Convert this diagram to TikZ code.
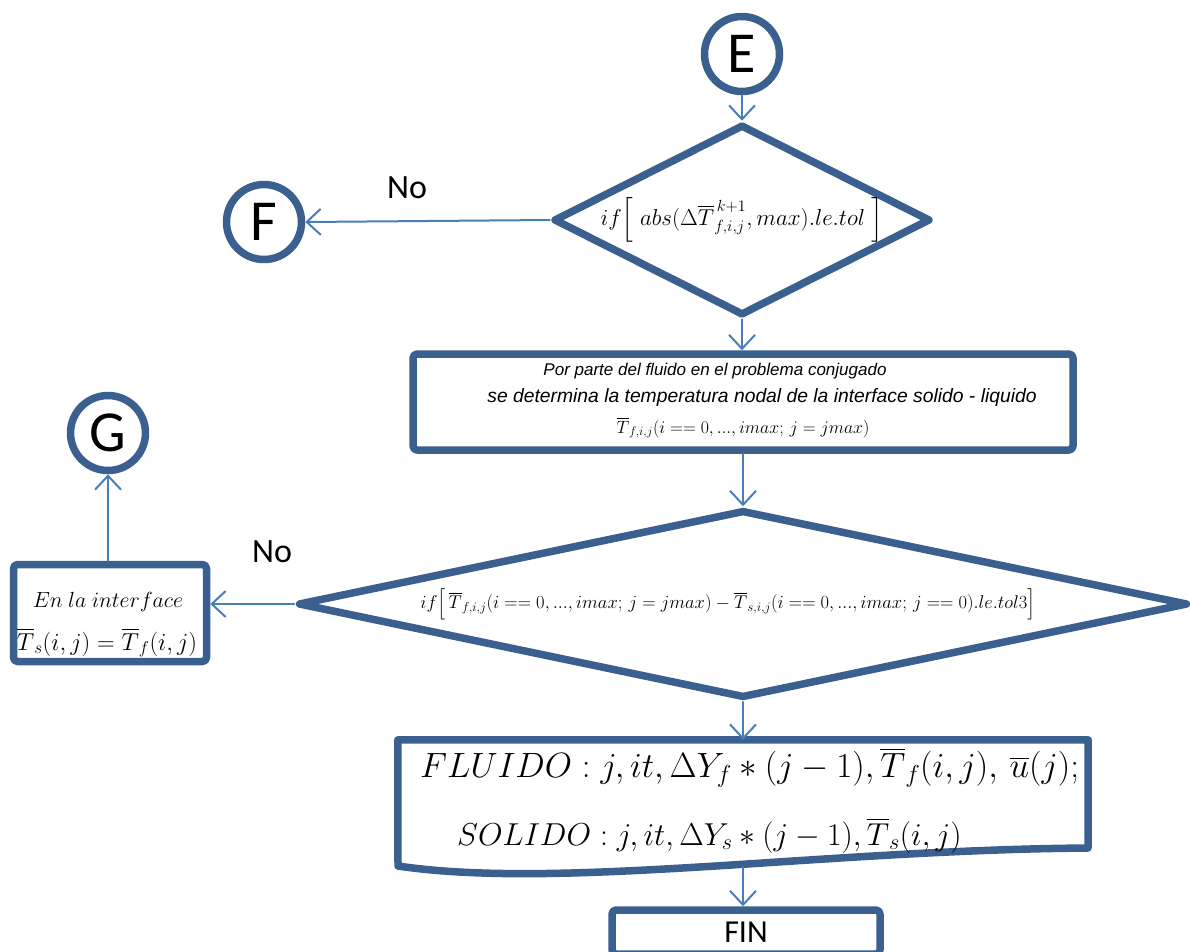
\RequirePackage{fix-cm}
\documentclass[tikz,border=0pt]{standalone}
\usepackage{amsmath}
\usepackage{fontspec}
\setmainfont{Liberation Serif}
\setsansfont{Liberation Sans}
\newfontfamily\carlito{Carlito}
\usetikzlibrary{arrows.meta,shapes.geometric}
\definecolor{flujoAzul}{HTML}{3B5F8F}
\definecolor{flujoLinea}{HTML}{4A7EBB}
\begin{document}
\begin{tikzpicture}[x=1pt,y=-1pt,line cap=round,line join=round]
\useasboundingbox (0,0) rectangle (1190,951);
\tikzset{borde/.style={draw=flujoAzul,line width=7.5pt},conector/.style={draw=flujoLinea,line width=2pt,-{Straight Barb[length=14pt,width=26pt,line width=2pt]}},circulo/.style={borde,circle,minimum size=75pt,inner sep=0pt,font=\fontsize{58}{58}\selectfont\carlito},caja/.style={borde,rectangle,rounded corners=4pt,inner sep=0pt},decision/.style={borde,diamond,inner sep=0pt},etiqueta/.style={font=\fontsize{34}{34}\selectfont\carlito},linea/.style={inner sep=0pt,anchor=base}}
% parte superior
\node[circulo] (E) at (742,54) {E};
\node[decision,aspect=2,minimum width=377pt,minimum height=191pt,font=\fontsize{23}{27}\selectfont] (cond1) at (742,220) {$if\Big[\;abs(\Delta\overline{T}^{\,k+1}_{f,i,j},max).le.tol\;\Big]$};
\node[circulo] (F) at (264,222) {F};
\node[etiqueta] (no1) at (407,188) {No};
\node[caja,minimum width=660pt,minimum height=96pt] (fluido) at (743,402) {};
\node[linea,font=\fontsize{17}{20}\selectfont\sffamily\itshape] (fluido1) at (715,375) {Por\ parte del fluido en el\ problema conjugado};
\node[linea,font=\fontsize{19.3}{22}\selectfont\sffamily\itshape] (fluido2) at (762,402) {se determina la temperatura nodal de la interface solido - liquido};
\node[linea,font=\fontsize{17.8}{20}\selectfont] (fluido3) at (743,433) {$\overline{T}_{f,i,j}(i==0,...,imax;\,j=jmax)$};
% segunda decision
\node[decision,aspect=4.7,minimum width=890pt,minimum height=188pt,font=\fontsize{18.5}{22}\selectfont] (cond2) at (743,604) {$if\Big[\,\overline{T}_{f,i,j}(i==0,...,imax;\,j=jmax)-\overline{T}_{s,i,j}(i==0,...,imax;\,j==0).le.tol3\Big]$\kern30pt};
\node[caja,minimum width=193pt,minimum height=97pt] (interfaz) at (110,613) {};
\node[linea,font=\fontsize{21.9}{24}\selectfont] (interfaz1) at (108,607) {$En\ la\ interface$};
\node[linea,font=\fontsize{24.5}{26}\selectfont] (interfaz2) at (107,650) {$\overline{T}_s(i,j)=\overline{T}_f(i,j)$};
\node[circulo] (G) at (108,433) {G};
\node[etiqueta] (no2) at (272,552) {No};
% salida de datos
\node[minimum width=690pt,minimum height=110pt,inner sep=0pt] (salida) at (743,795) {};
\draw[borde] (salida.north west) -- (salida.north east) -- (1088,848) .. controls (820,850) and (560,890) .. (398,866) -- cycle;
\node[linea,anchor=base west,font=\fontsize{35.1}{37}\selectfont] (fila1) at (420,777) {$FLUIDO: j,it,\Delta Y_f*(j-1),\overline{T}_f(i,j),\,\overline{u}(j);$};
\node[linea,anchor=base west,font=\fontsize{31.7}{34}\selectfont] (fila2) at (457,845) {$SOLIDO: j,it,\Delta Y_s*(j-1),\overline{T}_s(i,j)$};
\coordinate (onda) at (743,867);
\node[caja,minimum width=268pt,minimum height=44pt,font=\fontsize{32}{32}\selectfont\carlito] (fin) at (746,932) {FIN};
% conectores
\draw[conector] (E) -- (cond1);
\draw[conector] (cond1.west) -- (F.east);
\draw[conector] (cond1.south) -- (fluido.north -| cond1.south);
\draw[conector] (fluido.south -| cond2.north) -- (cond2.north);
\draw[conector] (cond2.west) -- (interfaz.east |- cond2.west);
\draw[conector] (interfaz.north -| G.south) -- (G.south);
\draw[conector] (cond2.south) -- (salida.north);
\draw[conector] (onda) -- (onda |- fin.north);
\end{tikzpicture}
\end{document}
